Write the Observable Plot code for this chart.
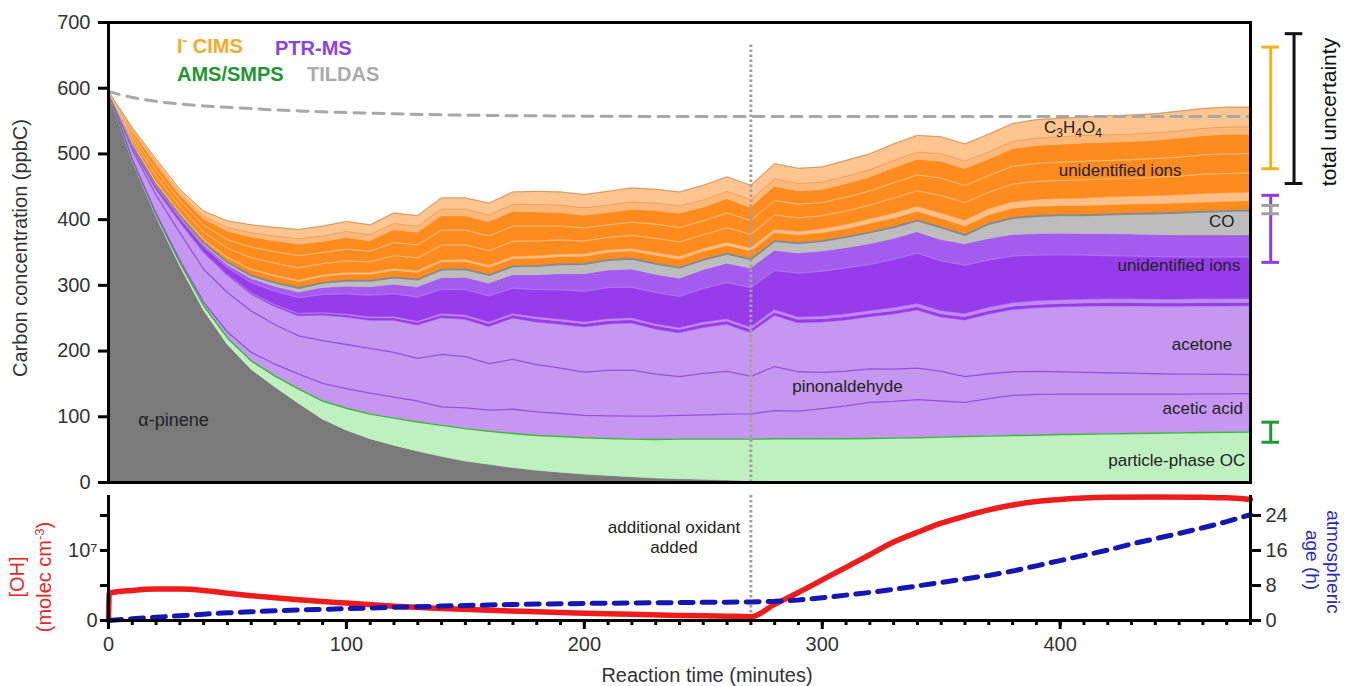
<!DOCTYPE html>
<html><head><meta charset="utf-8">
<script src="https://cdn.jsdelivr.net/npm/d3@7"></script>
<script src="https://cdn.jsdelivr.net/npm/@observablehq/plot@0.6"></script>
<style>
html,body{margin:0;padding:0;background:#fff;}
#wrap{position:relative;width:1345px;height:686px;overflow:hidden;font-family:"Liberation Sans",Arial,sans-serif;}
#main,#bottom{position:absolute;left:0;}
#main{top:0}
#bottom{top:486px}
#overlay{position:absolute;left:0;top:0;pointer-events:none;}
</style></head><body>
<div id="wrap"><div id="main"></div><div id="bottom"></div>
<svg id="overlay" width="1345" height="686" font-family="Liberation Sans, Arial, sans-serif">
  <text x="177" y="53" font-size="20" font-weight="bold" fill="#f5aa28">I<tspan dy="-8" font-size="14">-</tspan><tspan dy="8"> CIMS</tspan></text>
  <text x="275" y="55" font-size="20" font-weight="bold" fill="#8c41e6">PTR-MS</text>
  <text x="177" y="81" font-size="20" font-weight="bold" fill="#1e9632">AMS/SMPS</text>
  <text x="307" y="81" font-size="20" font-weight="bold" fill="#aaaaaa">TILDAS</text>
  <text transform="translate(27,248) rotate(-90)" text-anchor="middle" font-size="20" fill="#333">Carbon concentration (ppbC)</text>
  <text x="707" y="682" text-anchor="middle" font-size="20" fill="#333">Reaction time (minutes)</text>
  <text transform="translate(24,577) rotate(-90)" text-anchor="middle" font-size="20" fill="#ee2222">[OH]</text>
  <text transform="translate(51,577) rotate(-90)" text-anchor="middle" font-size="20" fill="#ee2222">(molec cm<tspan dy="-7" font-size="13">-3</tspan><tspan dy="7">)</tspan></text>
  <text transform="translate(1327,562) rotate(90)" text-anchor="middle" font-size="19" fill="#2a2ab8">atmospheric</text>
  <text transform="translate(1306,560) rotate(90)" text-anchor="middle" font-size="19" fill="#2a2ab8">age (h)</text>
  <text transform="translate(1336,112) rotate(-90)" text-anchor="middle" font-size="21" fill="#111">total uncertainty</text>
  <text x="674" y="533" text-anchor="middle" font-size="17" fill="#222">additional oxidant</text>
  <text x="674" y="553" text-anchor="middle" font-size="17" fill="#222">added</text>
  <text x="1044" y="133" font-size="17" fill="#222">C<tspan font-size="12" dy="4">3</tspan><tspan dy="-4">H</tspan><tspan font-size="12" dy="4">4</tspan><tspan dy="-4">O</tspan><tspan font-size="12" dy="4">4</tspan></text>
</svg>
</div>
<script>
// ---------- main panel data (ppbC), reaction time in minutes ----------
const times = [0,10,20,30,40,50,60,70,80,90,100,110,120,130,140,150,160,170,180,190,200,210,220,230,240,250,260,270,280,290,300,310,320,330,340,350,360,370,380,390,400,410,420,430,440,450,460,470,480];
const alphaPinene = [595,490,405,330,262,210,172,145,120,96,79,66,56,47,39,32,27,22,18,15,12,10,8,6,5,4,3,2,1.5,1,0.5,0,0,0,0,0,0,0,0,0,0,0,0,0,0,0,0,0,0];
const particleOC = [0,1,2.5,4.5,7,10,13,17,22,28,34,38,42,45,48,50,51,52.5,53.5,55,56,57,58,59.5,61,62,63,64,65,65.5,66,66.5,67,67.5,68,69,70,70.5,71.5,72,73,73.5,74,74.5,75,75.5,76,76.5,76.6];
const aceticAcid = [0,1,2,3.5,5.5,9,13,18,23,27,30,32,32,32,28,31.5,32,37,36,35,34,34.5,35,35.5,36,37,38,38.5,43,42,46,50,55,56,58,55,52,57,61,62,61.5,61,60.5,60,59.5,59,59,58.5,58.5];
const pinonaldehyde = [0,14,28,42,50,60,63,60,58,65,67,68,68,65,80,78,71,76,72,69,66,69,70,64,59,63,65,57,67,60,55,53,51,49,48,45,39,38,36,35,34,33,32.5,32,31,30.5,30,29.5,29];
const acetone = [0,4,9,16,25,26,25,27,30,38,41,42,48,50,55,56,55.7,62,64,66,68,70,71,68,66,69,71,66,77,74,76,77,78.6,83,87.8,82,85.6,90,94,96,98,100,101,101.5,102,102.5,103,103.5,104];
const ptrIonsA = [0,0.3,0.5,0.8,1,1.5,2,2.5,3,3,3.5,3.5,4,4,4,4.5,4.5,4.5,5,5,5,5,5,5,5,5,5,5,5,5,5,5,5,5,5,5,5,5,5,5,5,5,5,5,5,5,5,5,5];
const ptrIonsB = [0,0,0,0.2,0.5,0.5,1,1,1,1.5,1.5,2,2,2,2.5,2.5,2.5,2.5,3,3,3,3,3,3,3,3.5,3.5,3.5,4,4,4,4.5,4.5,5,5,5,5,5.5,5.5,6,6,6,6,6,6,6,6,6,6];
const ptrIonsC = [0,2,3.3,4.8,7.5,10,15,20.5,24,27.5,31,33.5,35,37,37.5,39,40,39,42,45,47,48,47,48,48,51.5,55.5,60.5,60,67,69,70.5,70.5,74,77,76,74,72.5,71.5,70,69,67.5,66,65.5,65,64.5,64,64,64];
const ptrIonsD = [0,0.7,1.2,2.2,3,4,6,7,8,10,11,12,14,15,17,18,19,20,22,24,26,26,27,27,27,28,29,29,30,30,30,30,31,31,32,32,32,32,32,32,32,32,33,33,33,33,33,33,33];
const carbonMonoxide = [0,0.5,1,2,3,4,5,6,7,8,9,10,11,12,13,13,13,13.5,14,15,15.5,16,16.5,17,17,16,15,14,15,15.5,16,17,18,18,18,19,14,23,26,27.5,28,28.5,30,31.5,33,34.5,36,37,38];
const cimsIonsA = [0,3,4,4,5,7,9,10,10,10,10,10,11,11,12,12,12,12,12,12,12,12,12,13,13,13,13,13,13,13,13,13,14,14,14,14,14,14,15,15,15,15,15,15,15,15,15,15,15];
const cimsIonsB = [0,0.5,1,1,1,1,1,1.5,1.5,1.5,2,2,2,2,2,2.5,2.5,2.5,3,3,3,3,3,3.5,3.5,3.5,4,4,4,4.5,5,5.5,6,6.5,7,7.5,8,8.5,9,9.5,10,10.5,11,11,11.5,11.5,12,12,12];
const cimsIonsC = [0,6,9,9,10.5,13.5,17,18,19,17.5,18,17,20,20,23,22.5,22.5,23.5,23,22,20,19.5,20.5,22,22.5,21.5,22.5,21,22.5,21,20.5,21,21.5,23.5,24,27,27,25.5,27.5,28,28,28.5,28,28,28.5,29,30,30,30];
const cimsIonsD = [0,6,9,9,10.5,13,16,17.5,18.5,17,18,16,20,19.5,23,22.5,22.3,23,22.5,21,20,19,20,21.5,22,21,22.5,21,22,21,20,21,21.5,23.5,24,26.5,26.4,25.5,27,27.5,28,28.5,28,28,28.5,29,29.5,30,29.5];
const cimsIonsE = [0,6,9,8,9.5,12.5,15,16,17,16,17,15,19,18.5,21,21,21,22,21,20,18.5,18,19,20,21,20,21,19.5,21,19.5,19,20,20.4,22,23.2,25,25,24,26,26.5,26.5,27,27,27,27,28,28.5,29,28.4];
const cimsIonsF = [0,2,3,3,4,6,7,8,9,9,10,10,10,10,11,11,11,11,12,12,12,12,12,12,12,12,12,12,12,12,12,12,12,12,12,12,12,12,12,12,12,12,12,12,12,12,12,12,12];
const c3h4o4 = [0,3,5,6,8,10,12,13,14,15,15,15,16,16,17,17,18,19,20,20,20,21,21,21,21,22,22,22,23,23,23,24,24,25,25,26,26,27,27,28,28,28,29,29,29,30,30,30,30];

// TILDAS total carbon (dashed)
const tildasTime = [0,10,20,30,40,50,60,70,80,90,100,120,140,160,180,200,250,300,350,400,450,480];
const tildasValue = [595,586,580,576,573,571,569,567,565.5,564,563,561,559.5,558.5,558,557.5,557,557,557,557,557,557];

// uncertainty bars (ppbC)
const uncertaintyName = ["I- CIMS","total","PTR-MS","TILDAS","AMS/SMPS"];
const uncertaintyLow  = [477.5,455,335,409,61.3];
const uncertaintyHigh = [662.6,683,437,421.6,91.8];

const yTicks = [0,100,200,300,400,500,600,700];

// ---------- bottom panel data ----------
const ohTime = [0,0.3,10,20,30,40,50,60,70,80,90,100,120,140,160,180,200,220,240,260,270,280,290,300,310,320,330,340,350,360,370,380,390,400,410,420,440,460,470,480];
const ohValue = [0,3.9e6,4.3e6,4.5e6,4.5e6,4.3e6,3.9e6,3.55e6,3.25e6,2.95e6,2.7e6,2.5e6,2.05e6,1.72e6,1.45e6,1.25e6,1.05e6,0.88e6,0.73e6,0.62e6,0.55e6,2.3e6,4.0e6,5.8e6,7.6e6,9.4e6,11.2e6,12.6e6,13.9e6,14.9e6,15.8e6,16.5e6,17.0e6,17.3e6,17.5e6,17.6e6,17.65e6,17.6e6,17.55e6,17.3e6];
const ageTime = [0,10,20,30,40,50,60,80,100,120,140,160,180,200,220,240,260,270,280,290,300,310,320,330,340,350,360,370,380,390,400,410,420,430,440,450,460,470,480];
const ageHours = [0,0.4,0.75,1.1,1.45,1.75,2.0,2.4,2.7,3.0,3.3,3.55,3.75,3.9,4.0,4.1,4.2,4.25,4.4,4.7,5.2,5.8,6.4,7.1,7.9,8.7,9.5,10.3,11.3,12.5,13.7,14.9,16.1,17.5,18.7,19.9,21.2,22.6,24.2];
const ohTicks = [0,5e6,1e7,1.5e7];
const ageTicks = [0,8,16,24];
const oxidantTime = 270;

// ---------- build stacked layers ----------
const layers = [
  {values: alphaPinene, fill: "#7a7a7a"},
  {values: particleOC, fill: "#bff0bf", line: "#3db53d", lw: 1.4},
  {values: aceticAcid, fill: "#c597f0", line: "#9452de", lw: 1.3},
  {values: pinonaldehyde, fill: "#c597f0", line: "#9452de", lw: 1.3},
  {values: acetone, fill: "#c597f0"},
  {values: ptrIonsA, fill: "#963ceb"},
  {values: ptrIonsB, fill: "#c08af1"},
  {values: ptrIonsC, fill: "#963ceb", line: "#b27ff1", lw: 0.8},
  {values: ptrIonsD, fill: "#a35cee"},
  {values: carbonMonoxide, fill: "#bdbdbd", line: "#8a8a8a", lw: 2},
  {values: cimsIonsA, fill: "#fd8b1e", line: "#ffc996", lw: 0.7},
  {values: cimsIonsB, fill: "#ffbf86"},
  {values: cimsIonsC, fill: "#fd8b1e", line: "#ffc996", lw: 0.8},
  {values: cimsIonsD, fill: "#fd8b1e", line: "#ffc996", lw: 0.8},
  {values: cimsIonsE, fill: "#fd8b1e"},
  {values: cimsIonsF, fill: "#ffb878", line: "#e09a60", lw: 0.8},
  {values: c3h4o4, fill: "#ffc590", line: "#d09a6a", lw: 1}
];
const base = times.map(() => 0);
for (const L of layers) {
  L.rows = times.map((t, i) => {
    const y1 = base[i], y2 = base[i] + L.values[i];
    base[i] = y2;
    return {time: t, y1, y2};
  });
}

const mainMarks = [];
for (const L of layers) mainMarks.push(Plot.areaY(L.rows, {x: "time", y1: "y1", y2: "y2", fill: L.fill, stroke: L.fill, strokeWidth: 0.5}));
for (const L of layers) if (L.line) mainMarks.push(Plot.lineY(L.rows, {x: "time", y: "y2", stroke: L.line, strokeWidth: L.lw}));

mainMarks.push(Plot.lineY(tildasTime.map((t,i) => ({time: t, v: tildasValue[i]})), {x: "time", y: "v", stroke: "#a8a8a8", strokeWidth: 3, strokeDasharray: "11,8", curve: "monotone-x"}));
mainMarks.push(Plot.ruleX([oxidantTime], {y1: 0, y2: 667, stroke: "#a0a0a0", strokeWidth: 3, strokeDasharray: "2.5,2.5"}));

const labelFont = 17;
const labels = [
  {t: "α-pinene", x: 27.3, y: 94.4, a: "middle", fs: 18},
  {t: "particle-phase OC", x: 477.8, y: 33.5, a: "end"},
  {t: "acetic acid", x: 476.8, y: 112.6, a: "end"},
  {t: "acetone", x: 459.6, y: 210, a: "middle"},
  {t: "pinonaldehyde", x: 310.6, y: 146, a: "middle"},
  {t: "unidentified ions", x: 449.9, y: 330, a: "middle"},
  {t: "CO", x: 467.9, y: 397, a: "middle"},
  {t: "unidentified ions", x: 425.2, y: 475, a: "middle"}
];
for (const l of labels) mainMarks.push(Plot.text([l], {x: "x", y: "y", text: "t", textAnchor: l.a, fontSize: l.fs || labelFont, fill: "#222"}));

// uncertainty bars
const barStyle = [
  {x: 488.5, c: "#f5b414"},
  {x: 498.3, c: "#111111"},
  {x: 488.5, c: "#8c3ee6"},
  {x: 488.5, c: "#a0a0a0"},
  {x: 488.5, c: "#1e9a32"}
];
uncertaintyName.forEach((n, i) => {
  const s = barStyle[i];
  mainMarks.push(Plot.ruleX([s.x], {y1: uncertaintyLow[i], y2: uncertaintyHigh[i], stroke: s.c, strokeWidth: 3}));
  mainMarks.push(Plot.ruleY([uncertaintyLow[i], uncertaintyHigh[i]], {x1: s.x - 3.7, x2: s.x + 3.7, stroke: s.c, strokeWidth: 3}));
});

mainMarks.push(Plot.frame({stroke: "#000", strokeWidth: 3}));
mainMarks.push(Plot.axisY({ticks: yTicks, tickSize: 10, tickPadding: 8, tickFormat: d => String(d), label: null, fontSize: 20, stroke: "#000", strokeWidth: 3, fill: "#333"}));

const mainChart = Plot.plot({
  width: 1345, height: 498,
  marginTop: 22, marginBottom: 16, marginLeft: 108, marginRight: 95,
  x: {domain: [0, 480], axis: null},
  y: {domain: [0, 700]},
  style: {fontFamily: "Liberation Sans, Arial, sans-serif", fontSize: "20px", color: "#333", background: "transparent"},
  marks: mainMarks
});
document.getElementById("main").appendChild(mainChart);

// ---------- bottom panel ----------
const H = 6.25e5; // OH units per hour of atmospheric age on the right axis
const bottomChart = Plot.plot({
  width: 1345, height: 200,
  marginTop: 9, marginBottom: 66, marginLeft: 108, marginRight: 95,
  x: {domain: [0, 480]},
  y: {domain: [0, 1.786e7]},
  style: {fontFamily: "Liberation Sans, Arial, sans-serif", fontSize: "20px", color: "#333", background: "transparent"},
  marks: [
    Plot.ruleX([oxidantTime], {stroke: "#a0a0a0", strokeWidth: 3, strokeDasharray: "2.5,2.5"}),
    Plot.lineY(ohTime.map((t,i) => ({time: t, v: ohValue[i]})), {x: "time", y: "v", stroke: "#ee1c1c", strokeWidth: 5.5, curve: "monotone-x"}),
    Plot.lineY(ageTime.map((t,i) => ({time: t, h: ageHours[i]})), {x: "time", y: d => d.h * H, stroke: "#1616b4", strokeWidth: 5, strokeDasharray: "13,9"}),
    Plot.ruleX([0], {stroke: "#000", strokeWidth: 3}),
    Plot.ruleX([480], {stroke: "#000", strokeWidth: 3}),
    Plot.ruleY([0], {stroke: "#000", strokeWidth: 3}),
    Plot.axisX({ticks: times, tickSize: 5, tickFormat: () => "", label: null, stroke: "#000", strokeWidth: 3}),
    Plot.axisX({ticks: [0,100,200,300,400], tickSize: 9, tickPadding: 7, tickFormat: d => String(d), label: null, fontSize: 20, stroke: "#000", strokeWidth: 3, fill: "#333"}),
    Plot.axisY({anchor: "left", ticks: ohTicks, tickSize: 8, tickPadding: 3, tickFormat: d => d === 0 ? "0" : d === 1e7 ? "10⁷" : "", label: null, fontSize: 20, stroke: "#000", strokeWidth: 3, fill: "#333"}),
    Plot.axisY({anchor: "right", ticks: ageTicks.map(h => h * H), tickSize: 10, tickPadding: 5, tickFormat: d => String(Math.round(d / H)), label: null, fontSize: 20, stroke: "#000", strokeWidth: 3, fill: "#333"})
  ]
});
document.getElementById("bottom").appendChild(bottomChart);
</script>
</body></html>
